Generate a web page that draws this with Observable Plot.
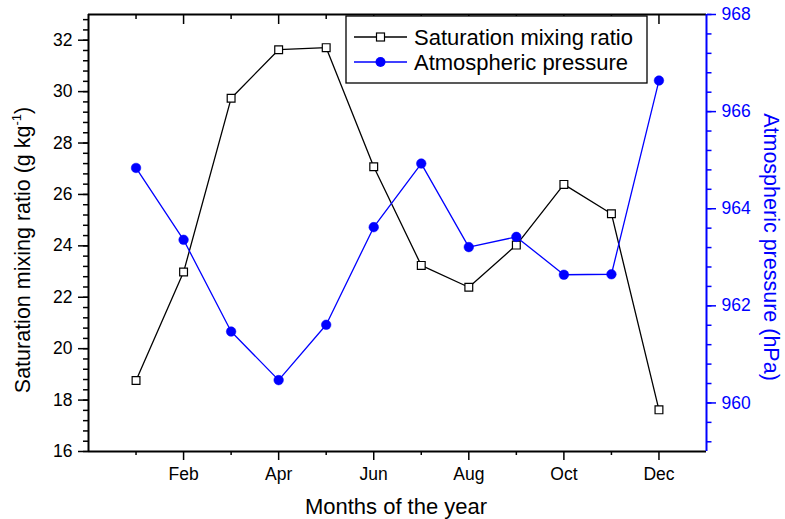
<!DOCTYPE html>
<html><head><meta charset="utf-8">
<script src="https://cdn.jsdelivr.net/npm/d3@7"></script>
<script src="https://cdn.jsdelivr.net/npm/@observablehq/plot@0.6"></script>
<style>
body{margin:0;background:#fff}
#chart svg{font-family:"Liberation Sans",Arial,sans-serif;background:#fff;color:#000}
</style>
</head><body><div id="chart"></div>
<script>
// ---- data ----
const months = [1,2,3,4,5,6,7,8,9,10,11,12];
const monthLabels = ["Jan","Feb","Mar","Apr","May","Jun","Jul","Aug","Sep","Oct","Nov","Dec"];
const mixingRatio = [18.76, 22.98, 29.74, 31.63, 31.71, 27.08, 23.24, 22.39, 24.03, 26.39, 25.25, 17.62];
const pressure = [964.84, 963.36, 961.47, 960.47, 961.61, 963.62, 964.93, 963.21, 963.42, 962.64, 962.65, 966.64];
const xMajorTicks = [2,4,6,8,10,12];
const xMinorTicks = [1,3,5,7,9,11];
const leftMajorTicks = [16,18,20,22,24,26,28,30,32];
const rightMajorTicks = [960,962,964,966,968];
const seriesNames = ["Saturation mixing ratio","Atmospheric pressure"];

// ---- scales ----
const leftDomain = [16, 33];
const rightDomain = [959, 968];
const toLeft = p => leftDomain[0] + (p - rightDomain[0]) * (leftDomain[1]-leftDomain[0])/(rightDomain[1]-rightDomain[0]);
const fromLeft = v => rightDomain[0] + (v - leftDomain[0]) * (rightDomain[1]-rightDomain[0])/(leftDomain[1]-leftDomain[0]);

const leftMinor = d3.range(0, 43).map(i => 16 + i*0.4).filter(v => v <= 33);
const rightMinor = d3.range(0, 23).map(i => 959.2 + i*0.4).filter(v => v <= 968.01);

const satData = months.map((m,i) => ({month:m, value:mixingRatio[i]}));
const presData = months.map((m,i) => ({month:m, value:toLeft(pressure[i])}));

const BLUE = "#0000ff";
const FS = 17.5;

const svgEl = Plot.plot({
  width: 785, height: 519,
  marginLeft: 88, marginRight: 79, marginTop: 14, marginBottom: 68,
  x: {domain: [0, 13]},
  y: {domain: leftDomain},
  marks: [
    // bottom axis
    Plot.axisX({anchor:"bottom", ticks: xMajorTicks, tickSize: 9, tickPadding: 7, strokeWidth: 1.5,
      tickFormat: d => monthLabels[d-1], fontSize: FS, label: null}),
    Plot.axisX({anchor:"bottom", ticks: xMinorTicks, tickSize: 4, strokeWidth: 1.5, tickFormat: () => "", label: null}),
    // top ticks (inward)
    Plot.axisX({anchor:"top", ticks: xMajorTicks, tickSize: 9, dy: 9, strokeWidth: 1.5, tickFormat: () => "", label: null}),
    Plot.axisX({anchor:"top", ticks: xMinorTicks, tickSize: 4, dy: 4, strokeWidth: 1.5, tickFormat: () => "", label: null}),
    // left axis
    Plot.axisY({anchor:"left", ticks: leftMajorTicks, tickSize: 10, tickPadding: 6, strokeWidth: 1.5,
      fontSize: FS, tickFormat: d => String(d), label: null}),
    Plot.axisY({anchor:"left", ticks: leftMinor, tickSize: 5, strokeWidth: 1.5, tickFormat: () => "", label: null}),
    // right axis (pressure)
    Plot.axisY({anchor:"right", ticks: rightMajorTicks.map(toLeft), tickSize: 9, tickPadding: 6, strokeWidth: 1.5,
      color: BLUE, fontSize: FS, tickFormat: d => String(Math.round(fromLeft(d))), label: null}),
    Plot.axisY({anchor:"right", ticks: rightMinor.map(toLeft), tickSize: 4.5, strokeWidth: 1.5,
      color: BLUE, tickFormat: () => "", label: null}),
    // frame
    Plot.ruleY([leftDomain[1]], {stroke: "black", strokeWidth: 2}),
    Plot.ruleY([leftDomain[0]], {stroke: "black", strokeWidth: 2}),
    Plot.ruleX([0], {stroke: "black", strokeWidth: 2}),
    Plot.ruleX([13], {stroke: BLUE, strokeWidth: 2}),
    // series
    Plot.line(satData, {x: "month", y: "value", stroke: "black", strokeWidth: 1.3}),
    Plot.dot(satData, {x: "month", y: "value", symbol: "square", r: 4.4, fill: "white", stroke: "black", strokeWidth: 1.2}),
    Plot.line(presData, {x: "month", y: "value", stroke: BLUE, strokeWidth: 1.3}),
    Plot.dot(presData, {x: "month", y: "value", r: 4.8, fill: BLUE, stroke: BLUE, strokeWidth: 0.5})
  ]
});
document.getElementById("chart").appendChild(svgEl);

const svg = d3.select(svgEl);
const TF = 22;
// left title
const lt = svg.append("text")
  .attr("transform", "translate(30,250) rotate(-90)")
  .attr("text-anchor", "middle")
  .attr("font-size", 21.5)
  .attr("fill", "black");
lt.append("tspan").text("Saturation mixing ratio (g kg");
lt.append("tspan").attr("font-size", 13).attr("dy", -9).text("-1");
lt.append("tspan").attr("dy", 9).text(")");
// right title
svg.append("text")
  .attr("transform", "translate(764,247) rotate(90)")
  .attr("text-anchor", "middle")
  .attr("font-size", 21.5)
  .attr("fill", BLUE)
  .text("Atmospheric pressure (hPa)");
// x title
svg.append("text")
  .attr("x", 396).attr("y", 514)
  .attr("text-anchor", "middle")
  .attr("font-size", TF)
  .attr("fill", "black")
  .text("Months of the year");

// legend
const lg = svg.append("g");
lg.append("rect").attr("x", 346).attr("y", 16).attr("width", 301).attr("height", 67)
  .attr("fill", "white").attr("stroke", "black").attr("stroke-width", 1.3);
const rows = [
  {name: seriesNames[0], y: 37, color: "black", sym: "square"},
  {name: seriesNames[1], y: 62, color: BLUE, sym: "circle"}
];
rows.forEach(r => {
  lg.append("line").attr("x1", 354).attr("x2", 407).attr("y1", r.y).attr("y2", r.y)
    .attr("stroke", r.color).attr("stroke-width", 1.3);
  if (r.sym === "square") {
    lg.append("rect").attr("x", 376.5).attr("y", r.y-4).attr("width", 8).attr("height", 8)
      .attr("fill", "white").attr("stroke", "black").attr("stroke-width", 1.2);
  } else {
    lg.append("circle").attr("cx", 380.5).attr("cy", r.y).attr("r", 5).attr("fill", BLUE);
  }
  lg.append("text").attr("x", 414).attr("y", r.y).attr("dy", "0.35em")
    .attr("text-anchor", "start")
    .attr("font-size", TF).attr("fill", "black").text(r.name);
});
</script>
</body></html>
